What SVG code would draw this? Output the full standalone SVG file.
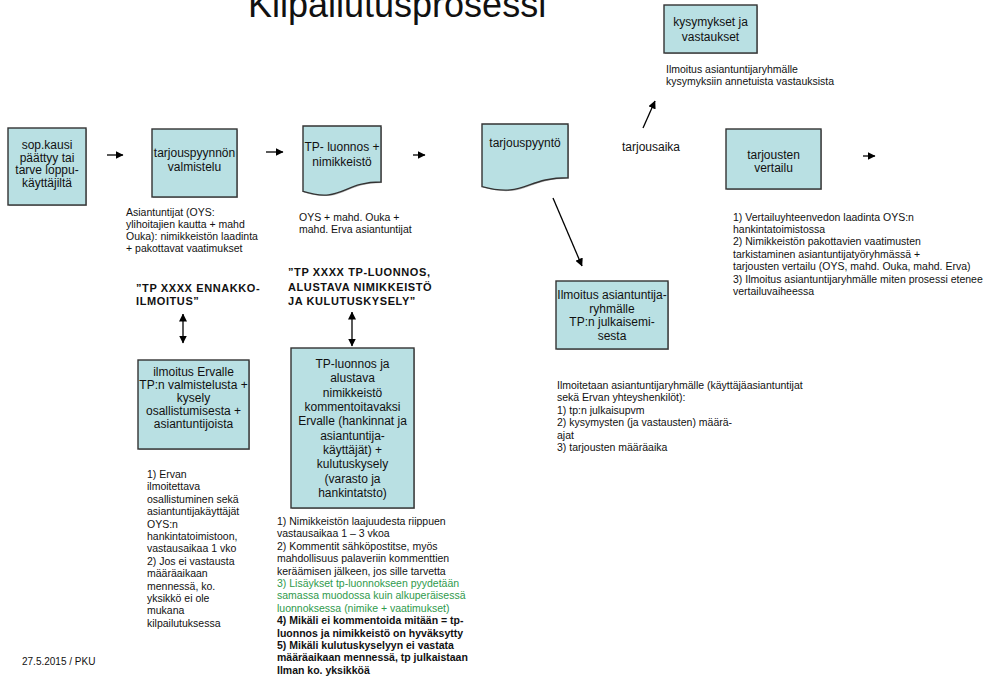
<svg xmlns="http://www.w3.org/2000/svg" width="984" height="680" viewBox="0 0 984 680">
<defs>
<marker id="ah" viewBox="0 0 8 8" markerWidth="8" markerHeight="8" refX="7.5" refY="4" orient="auto-start-reverse" markerUnits="userSpaceOnUse">
<path d="M0,0 L8,4 L0,8 z" fill="#000"/>
</marker>
<style>
text{font-family:"Liberation Sans",Arial,sans-serif;fill:#111}
.box{fill:#b9e0e3;stroke:#333;stroke-width:1.4}
.sh{fill:#b5b5b5}
.bt{font-size:12px;text-anchor:middle}
.nt{font-size:10.5px}
.hd{font-size:11px;font-weight:bold;letter-spacing:0.6px}
.gr{fill:#2f9a4c}
.b{font-weight:bold}
.con line{stroke:#000;stroke-width:1.3;marker-end:url(#ah)}
.con line.dbl{marker-start:url(#ah)}
</style>
</defs>
<rect width="984" height="680" fill="#fff"/>
<text x="248" y="17" font-size="36">Kilpailutusprosessi</text>

<g id="n_kysymykset">
<rect class="sh" x="665" y="6" width="93" height="48"/>
<rect class="box" x="664" y="5" width="93" height="48"/>
<text class="bt" x="710.5" y="26">kysymykset ja</text>
<text class="bt" x="710.5" y="41">vastaukset</text>
</g>
<g id="t_kysymykset">
<text class="nt" font-size="10" x="666" y="73">Ilmoitus asiantuntijaryhmälle</text>
<text class="nt" font-size="10" x="666" y="85">kysymyksiin annetuista vastauksista</text>
</g>

<g id="n_sop">
<rect class="sh" x="9" y="129" width="78" height="77"/>
<rect class="box" x="8" y="128" width="78" height="77"/>
<text class="bt" x="47" y="149">sop.kausi</text>
<text class="bt" x="47" y="161.5">päättyy tai</text>
<text class="bt" x="47" y="174">tarve loppu-</text>
<text class="bt" x="47" y="186.5">käyttäjiltä</text>
</g>

<g id="n_valmistelu">
<rect class="sh" x="153" y="130" width="85" height="68"/>
<rect class="box" x="152" y="129" width="85" height="68"/>
<text class="bt" x="194.5" y="157">tarjouspyynnön</text>
<text class="bt" x="194.5" y="171">valmistelu</text>
</g>
<g id="t_valmistelu">
<text class="nt" x="126" y="216">Asiantuntijat (OYS:</text>
<text class="nt" x="126" y="228">ylihoitajien kautta + mahd</text>
<text class="nt" x="126" y="240">Ouka): nimikkeistön laadinta</text>
<text class="nt" x="126" y="252">+ pakottavat  vaatimukset</text>
</g>

<g id="n_luonnos">
<path class="sh" transform="translate(1,1)" d="M303,126 H381 V182 C342,182 342,203.5 303,191.4 Z"/>
<path class="box" d="M303,126 H381 V182 C342,182 342,203.5 303,191.4 Z"/>
<text class="bt" x="342" y="151">TP- luonnos  +</text>
<text class="bt" x="342" y="166">nimikkeistö</text>
</g>
<g id="t_luonnos">
<text class="nt" x="299" y="221">OYS + mahd. Ouka +</text>
<text class="nt" x="299" y="233">mahd. Erva asiantuntijat</text>
</g>

<g id="n_tarjouspyynto">
<path class="sh" transform="translate(1,1)" d="M482,124 H568 V177.7 C525,177.7 525,198.2 482,186.6 Z"/>
<path class="box" d="M482,124 H568 V177.7 C525,177.7 525,198.2 482,186.6 Z"/>
<text class="bt" x="525" y="147">tarjouspyyntö</text>
</g>

<g id="t_tarjousaika">
<text font-size="12" x="622" y="151">tarjousaika</text>
</g>

<g id="n_vertailu">
<rect class="sh" x="727" y="130" width="95" height="60"/>
<rect class="box" x="726" y="129" width="95" height="60"/>
<text class="bt" x="773.5" y="159">tarjousten</text>
<text class="bt" x="773.5" y="172">vertailu</text>
</g>
<g id="t_vertailu">
<text class="nt" x="733" y="221">1) Vertailuyhteenvedon  laadinta OYS:n</text>
<text class="nt" x="733" y="233">hankintatoimistossa</text>
<text class="nt" x="733" y="245">2) Nimikkeistön pakottavien  vaatimusten</text>
<text class="nt" x="733" y="258">tarkistaminen asiantuntijatyöryhmässä +</text>
<text class="nt" x="733" y="270">tarjousten vertailu (OYS, mahd. Ouka,  mahd. Erva)</text>
<text class="nt" x="733" y="283">3) Ilmoitus asiantuntijaryhmälle miten prosessi etenee</text>
<text class="nt" x="733" y="295">vertailuvaiheessa</text>
</g>

<g id="h_ennakko">
<text class="hd" x="136" y="291.5">”TP XXXX ENNAKKO-</text>
<text class="hd" x="136" y="304.5">ILMOITUS”</text>
</g>
<g id="h_luonnos">
<text class="hd" x="288" y="276">”TP XXXX TP-LUONNOS,</text>
<text class="hd" x="288" y="291">ALUSTAVA NIMIKKEISTÖ</text>
<text class="hd" x="288" y="305">JA KULUTUSKYSELY”</text>
</g>

<g id="n_ervalle">
<rect class="sh" x="139" y="361" width="111" height="89"/>
<rect class="box" x="138" y="360" width="111" height="89"/>
<text class="bt" font-size="11.5" x="193.5" y="376">ilmoitus  Ervalle</text>
<text class="bt" font-size="11.5" x="193.5" y="389">TP:n valmistelusta  +</text>
<text class="bt" font-size="11.5" x="193.5" y="402">kysely</text>
<text class="bt" font-size="11.5" x="193.5" y="415">osallistumisesta  +</text>
<text class="bt" font-size="11.5" x="193.5" y="428">asiantuntijoista</text>
</g>
<g id="t_ervalle">
<text class="nt" x="147" y="478">1) Ervan</text>
<text class="nt" x="147" y="490.4">ilmoitettava</text>
<text class="nt" x="147" y="502.8">osallistuminen sekä</text>
<text class="nt" x="147" y="515.2">asiantuntijakäyttäjät</text>
<text class="nt" x="147" y="527.6">OYS:n</text>
<text class="nt" x="147" y="540">hankintatoimistoon,</text>
<text class="nt" x="147" y="552.4">vastausaikaa 1 vko</text>
<text class="nt" x="147" y="564.8"> 2) Jos ei vastausta</text>
<text class="nt" x="147" y="577.2">määräaikaan</text>
<text class="nt" x="147" y="589.6">mennessä, ko.</text>
<text class="nt" x="147" y="602">yksikkö ei ole</text>
<text class="nt" x="147" y="614.4">mukana</text>
<text class="nt" x="147" y="626.8">kilpailutuksessa</text>
</g>

<g id="n_kommentointi">
<rect class="sh" x="292" y="349" width="123" height="160"/>
<rect class="box" x="291" y="348" width="123" height="160"/>
<text class="bt" x="352.5" y="368">TP-luonnos  ja</text>
<text class="bt" x="352.5" y="382.3">alustava</text>
<text class="bt" x="352.5" y="396.7">nimikkeistö</text>
<text class="bt" x="352.5" y="411">kommentoitavaksi</text>
<text class="bt" x="352.5" y="425.3">Ervalle (hankinnat  ja</text>
<text class="bt" x="352.5" y="439.7">asiantuntija-</text>
<text class="bt" x="352.5" y="454">käyttäjät)   +</text>
<text class="bt" x="352.5" y="468.3">kulutuskysely</text>
<text class="bt" x="352.5" y="482.7">(varasto  ja</text>
<text class="bt" x="352.5" y="497">hankintatsto)</text>
</g>
<g id="t_kommentointi">
<text class="nt" x="277" y="525">1) Nimikkeistön laajuudesta riippuen</text>
<text class="nt" x="277" y="537.4">vastausaikaa 1 – 3 vkoa</text>
<text class="nt" x="277" y="549.8">2) Kommentit sähköpostitse, myös</text>
<text class="nt" x="277" y="562.2">mahdollisuus palaveriin kommenttien</text>
<text class="nt" x="277" y="574.6">keräämisen jälkeen, jos sille tarvetta</text>
<text class="nt gr" x="277" y="587">3) Lisäykset tp-luonnokseen pyydetään</text>
<text class="nt gr" x="277" y="599.4">samassa muodossa kuin alkuperäisessä</text>
<text class="nt gr" x="277" y="611.8">luonnoksessa (nimike + vaatimukset)</text>
<text class="nt b" x="277" y="624.2">4) Mikäli ei kommentoida mitään = tp-</text>
<text class="nt b" x="277" y="636.6">luonnos ja nimikkeistö on hyväksytty</text>
<text class="nt b" x="277" y="649">5) Mikäli kulutuskyselyyn ei vastata</text>
<text class="nt b" x="277" y="661.4">määräaikaan mennessä, tp julkaistaan</text>
<text class="nt b" x="277" y="673.8">Ilman ko. yksikköä</text>
</g>

<g id="n_julkaisu">
<rect class="sh" x="557" y="282" width="112" height="68"/>
<rect class="box" x="556" y="281" width="112" height="68"/>
<text class="bt" x="612" y="299">Ilmoitus  asiantuntija-</text>
<text class="bt" x="612" y="312.5">ryhmälle</text>
<text class="bt" x="612" y="326">TP:n julkaisemi-</text>
<text class="bt" x="612" y="339.5">sesta</text>
</g>
<g id="t_julkaisu">
<text class="nt" x="557" y="389">Ilmoitetaan asiantuntijaryhmälle (käyttäjäasiantuntijat</text>
<text class="nt" x="557" y="401.4">sekä Ervan yhteyshenkilöt):</text>
<text class="nt" x="557" y="413.8">1) tp:n julkaisupvm</text>
<text class="nt" x="557" y="426.2">2) kysymysten  (ja vastausten)  määrä-</text>
<text class="nt" x="557" y="438.6">ajat</text>
<text class="nt" x="557" y="451">3) tarjousten määräaika</text>
</g>

<g id="footer">
<text font-size="10" x="22" y="665">27.5.2015 / PKU</text>
</g>

<g id="connectors" class="con">
<line x1="107" y1="155" x2="123" y2="155"/>
<line x1="266" y1="152" x2="283" y2="152"/>
<line x1="413" y1="155" x2="425" y2="155"/>
<line x1="553" y1="198" x2="582" y2="266"/>
<line x1="643" y1="128" x2="655" y2="101"/>
<line x1="863" y1="156" x2="875" y2="156"/>
<line class="dbl" x1="183" y1="314" x2="183" y2="343"/>
<line class="dbl" x1="352" y1="312" x2="352" y2="346"/>
</g>
</svg>
